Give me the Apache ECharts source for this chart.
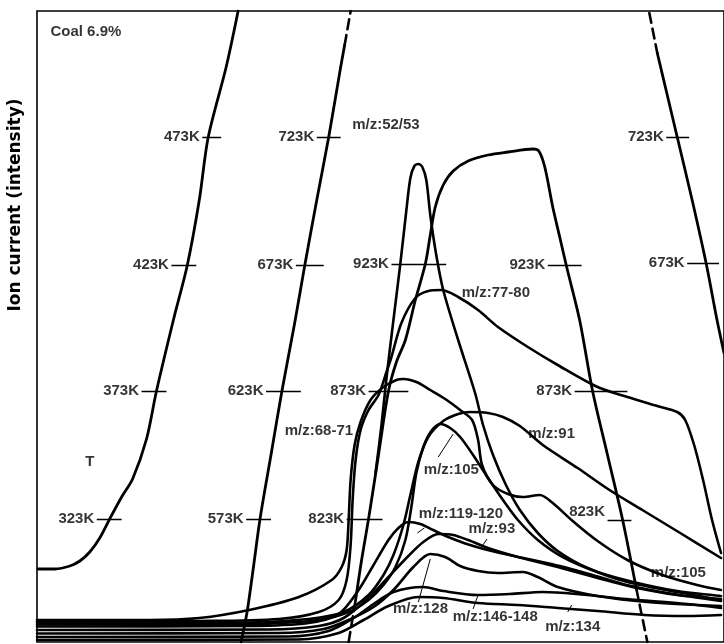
<!DOCTYPE html>
<html><head><meta charset="utf-8">
<script src="https://cdn.jsdelivr.net/npm/echarts@6/dist/echarts.min.js"></script>
<style>html,body{margin:0;padding:0;background:#fff}#c{width:724px;height:644px}</style>
</head><body><div id="c"></div>
<script>
// time axis (arbitrary units) vs ion current (arbitrary units)
const tempRamp1 = [[0.1,7.3],[1.8,7.3],[3.3,7.6],[4.3,8.1],[5.3,9.0],[6.3,10.4],[7.3,12.3],[8.5,14.5],[9.6,16.3],[11.0,20.3],[12.0,25.1],[13.7,32.2],[15.1,37.7],[16.3,44.2],[17.2,50.5],[19.0,57.5],[20.2,63.1]];
const tempRamp2 = [[20.5,0],[21.1,3.0],[21.7,7.2],[22.4,12.3],[23.5,18.7],[24.6,25.1],[25.9,32.0],[26.9,37.7],[28.1,44.2],[29.3,50.5],[30.5,57.5],[30.9,59.7]];
const tempRamp2Dashed = [[30.9,59.7],[31.5,63.1]];
const tempRamp3DashedStart = [[31.3,0],[32.0,4.2]];
const tempRamp3 = [[32.0,4.2],[32.6,8.2],[33.3,12.3],[34.3,18.7],[35.3,25.1],[36.1,28.0],[37.0,30.2],[38.0,34.2],[39.0,37.8],[39.5,40.7],[40.0,43.5],[40.8,45.7],[41.8,47.1],[43.3,48.1],[45.3,48.7],[47.3,49.0],[49.8,49.3],[50.4,49.1],[51.0,47.5],[51.8,43.5],[52.5,40.5],[53.2,37.5],[54.5,32.2],[55.8,25.1],[57.3,18.7],[58.8,12.3],[60.2,5.3]];
const tempRamp3DashedEnd = [[60.2,5.3],[61.3,0]];
const tempRamp4Dashed = [[61.5,62.9],[62.3,58.9]];
const tempRamp4 = [[62.3,58.9],[63.3,54.7],[64.3,50.5],[65.8,44.2],[67.2,37.9],[68.3,32.2],[69.0,28.9]];

const mz52_53 = [[34.0,16.9],[34.6,21.7],[35.1,26.4],[35.8,32.2],[36.5,37.9],[37.1,43.2],[37.5,46.4],[37.9,47.6],[38.3,47.8],[38.7,47.5],[39.1,46.2],[39.5,42.7],[40.1,38.7],[40.8,35.2],[42.3,30.2],[44.0,24.9],[44.8,21.7],[45.8,18.7],[47.1,15.7],[48.5,13.2],[50.3,10.9],[52.3,9.1],[55.3,7.4],[59.3,6.0],[64.3,5.0],[68.7,4.2]];
const mz68_71 = [[0,2.2],[11.3,2.2],[16.3,2.4],[21.3,3.2],[26.3,4.5],[29.6,6.2],[30.6,7.5],[31.1,9.2],[31.3,12.2],[31.5,16.2],[31.9,19.7],[32.5,22.0],[33.5,24.2],[34.8,25.5],[36.1,26.2],[36.8,26.3],[38.1,26.0],[39.5,25.2],[41.0,24.3],[42.5,23.2],[43.7,22.2],[44.3,20.2],[44.7,17.7],[45.8,15.7],[47.3,14.8],[48.8,14.5],[50.5,14.7],[51.8,13.9],[53.8,12.1],[56.3,10.1],[59.3,8.2],[62.8,6.7],[66.3,5.7],[68.7,5.2]];
const mz77_80 = [[0,2.05],[16.3,2.1],[24.3,2.3],[28.3,3.0],[30.3,4.2],[31.1,6.2],[31.5,9.7],[31.7,14.2],[32.0,18.2],[32.5,21.2],[33.3,23.2],[34.3,24.7],[35.1,27.0],[35.6,28.5],[36.6,31.9],[38.0,34.4],[39.3,35.1],[40.6,35.2],[42.3,34.5],[44.3,33.2],[46.3,31.5],[49.3,29.5],[52.3,27.7],[56.3,25.5],[59.3,24.5],[62.3,23.6],[64.3,23.0],[65.1,22.2],[66.0,19.7],[66.9,16.2],[67.8,12.2],[68.7,8.9]];
const mz91 = [[0,1.9],[21.3,1.95],[27.3,2.3],[30.8,3.0],[33.3,4.7],[34.8,6.7],[35.8,8.7],[36.8,11.7],[37.5,14.7],[38.3,18.0],[39.3,20.5],[40.8,22.1],[42.3,22.8],[43.5,23.0],[45.3,22.9],[46.8,22.5],[48.5,21.6],[50.8,19.7],[54.3,17.4],[57.5,15.2],[60.8,13.2],[64.6,10.9],[68.7,8.4]];
const mz105 = [[0,1.75],[21.3,1.8],[28.3,2.2],[31.3,3.0],[33.3,4.2],[34.8,5.7],[36.0,7.5],[37.0,10.2],[37.6,13.5],[38.1,16.9],[38.8,19.5],[39.6,21.1],[40.5,21.8],[41.5,21.4],[42.5,20.5],[43.8,18.7],[45.3,16.4],[46.8,14.2],[48.3,12.2],[50.3,10.2],[52.8,8.5],[56.3,7.0],[60.3,5.9],[64.3,5.1],[68.7,4.6]];
const mz119_120 = [[0,1.55],[21.3,1.6],[27.3,1.9],[30.3,2.8],[32.3,5.2],[33.8,7.7],[35.3,10.2],[36.3,11.4],[37.3,12.0],[38.5,11.8],[39.8,11.2],[41.3,10.5],[43.5,9.7],[46.5,8.9],[49.8,8.2],[52.5,7.6],[55.8,6.7],[59.2,5.7],[63.3,4.9],[68.7,4.1]];
const mz93 = [[0,1.2],[23.3,1.25],[28.3,1.6],[30.8,2.4],[33.3,4.4],[35.3,6.5],[37.3,8.6],[38.8,10.0],[40.3,10.8],[41.8,10.7],[43.3,10.2],[45.3,9.4],[48.3,8.5],[52.3,7.5],[56.3,6.4],[60.3,5.4],[64.3,4.7],[68.7,4.3]];
const mz128 = [[0,0.85],[24.3,0.9],[28.8,1.3],[31.3,2.2],[33.8,3.5],[35.8,5.2],[37.8,7.5],[39.5,8.8],[41.0,8.5],[42.5,7.6],[44.3,7.1],[46.3,6.9],[48.8,7.0],[50.3,6.5],[52.3,5.5],[56.3,4.6],[61.3,4.0],[68.7,3.6]];
const mz146_148 = [[0,0.5],[25.3,0.55],[29.3,1.1],[31.8,2.4],[33.8,3.8],[35.8,5.0],[38.8,5.5],[40.8,5.1],[44.2,4.7],[47.5,4.8],[50.8,5.0],[54.2,4.8],[59.2,4.3],[65.3,3.8],[68.7,3.4]];
const mz134 = [[0,0.2],[26.3,0.25],[30.3,0.9],[32.8,2.2],[35.3,3.6],[38.3,4.5],[40.8,4.4],[44.3,3.9],[48.3,3.7],[52.3,3.4],[56.3,3.1],[61.0,2.7],[65.3,2.6],[68.7,2.7]];

// temperature marks: [label, tick start, tick end, level, label level]
const tempTicks = [
  ['473K',16.6,18.5,50.5],['423K',13.5,16.0,37.7],['373K',10.5,13.0,25.1],['323K',6.0,8.5,12.3],
  ['723K',28.1,30.5,50.5],['673K',26.0,28.8,37.7],['623K',23.0,26.5,25.1],['573K',21.0,23.5,12.3],
  ['923K',35.6,41.1,37.8],['873K',33.3,37.3,25.1],['823K',31.1,34.7,12.3],
  ['923K',51.3,54.7,37.7],['873K',54.0,59.3,25.1],['823K',57.3,59.7,12.2,13.0],
  ['723K',63.2,65.5,50.5],['673K',65.3,68.5,37.9]
];
// text annotations: [text, x, y, align]
const annotations = [
  ['Coal 6.9%',1.3,61.0,'left'],['T',5.3,18.0,'center'],
  ['m/z:52/53',31.6,51.7,'left'],['m/z:77-80',42.6,34.9,'left'],['m/z:68-71',31.8,21.1,'right'],
  ['m/z:91',49.3,20.8,'left'],['m/z:105',38.8,17.2,'left'],['m/z:119-120',38.3,12.8,'left'],
  ['m/z:93',43.3,11.3,'left'],['m/z:128',35.7,3.3,'left'],['m/z:146-148',41.7,2.5,'left'],
  ['m/z:134',51.0,1.5,'left'],['m/z:105',61.6,6.9,'left']
];
const leaders = [
  [[40.3,18.5],[41.8,20.8]],[[38.9,11.4],[38.2,10.9]],[[45.2,10.3],[44.5,9.3]],
  [[38.3,4.0],[39.5,8.3]],[[43.8,3.3],[44.3,4.7]],[[53.3,3.0],[53.7,3.7]]
];

const FONT = '"Liberation Sans", Arial, sans-serif';
const series = [];
function curve(data, width, dashed, smooth){
  series.push({type:'line', data:data, showSymbol:false, symbol:'none', smooth:smooth, silent:true,
    lineStyle:{color:'#000', width:width, type: dashed ? [10,6] : 'solid', cap:'round', join:'round'}, z:3});
}
[tempRamp1,tempRamp2,tempRamp3,tempRamp4].forEach(d=>curve(d,2.8,false,0.3));
[tempRamp2Dashed,tempRamp3DashedStart,tempRamp3DashedEnd,tempRamp4Dashed].forEach(d=>curve(d,2.6,true,false));
[mz52_53,mz68_71,mz77_80,mz91,mz105,mz119_120,mz93,mz128,mz146_148,mz134].forEach(d=>curve(d,2.6,false,0.3));

series.push({type:'lines', coordinateSystem:'cartesian2d', silent:true, z:4,
  lineStyle:{color:'#000', width:1.4, opacity:1},
  data: tempTicks.map(t=>({coords:[[t[1],t[3]],[t[2],t[3]]]}))});
series.push({type:'lines', coordinateSystem:'cartesian2d', silent:true, z:4,
  lineStyle:{color:'#000', width:1, opacity:1},
  data: leaders.map(l=>({coords:l}))});
series.push({type:'scatter', silent:true, symbolSize:1, itemStyle:{color:'rgba(0,0,0,0)'}, z:5,
  data: tempTicks.map(t=>({value:[t[1], t.length>4 ? t[4] : t[3]], name:t[0]})),
  label:{show:true, position:'left', distance:2, formatter:p=>p.name, color:'#000', fontSize:15, fontWeight:'bold', fontFamily:FONT}});
annotations.forEach(a=>{
  series.push({type:'scatter', silent:true, symbolSize:1, itemStyle:{color:'rgba(0,0,0,0)'}, z:5,
    data:[{value:[a[1],a[2]], name:a[0]}],
    label:{show:true, position: a[3]==='left' ? 'right' : (a[3]==='right' ? 'left' : 'inside'), distance:0,
      formatter:p=>p.name, color:'#000', fontSize:15, fontWeight:'bold', fontFamily:FONT}});
});

const chart = echarts.init(document.getElementById('c'), null, {renderer:'canvas'});
chart.setOption({
  animation:false,
  backgroundColor:'#fff',
  grid:{left:37, right:-3, top:11, bottom:2, show:true, borderColor:'#000', borderWidth:1.6, backgroundColor:'transparent'},
  xAxis:{type:'value', min:0, max:69.0, show:true, axisLine:{show:false}, axisTick:{show:false}, axisLabel:{show:false}, splitLine:{show:false}},
  yAxis:{type:'value', min:0, max:63.1, show:true, axisLine:{show:false}, axisTick:{show:false}, axisLabel:{show:false}, splitLine:{show:false}},
  graphic:[{type:'text', x:16, y:205, rotation:Math.PI/2,
    style:{text:'Ion current (intensity)', fill:'#000', font:'bold 17px "DejaVu Sans", sans-serif', textAlign:'center', textVerticalAlign:'middle'}}],
  series:series
});
</script></body></html>
